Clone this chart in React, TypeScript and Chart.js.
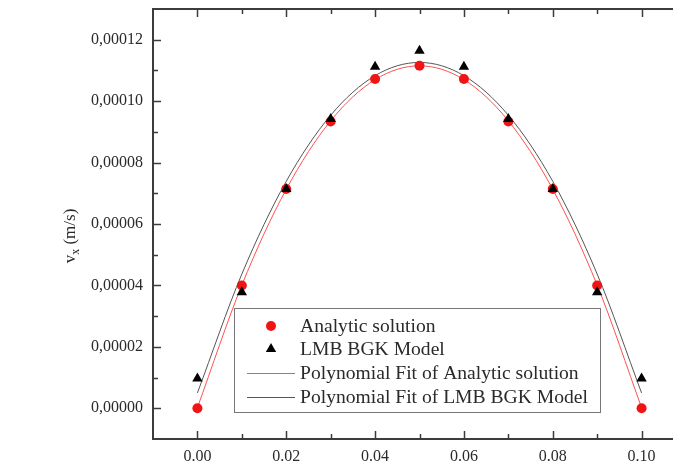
import React, { useEffect, useRef } from "react";
import { Chart, registerables } from "chart.js";

Chart.register(...registerables);

// ---- data ----
const xValues = [0, 0.01, 0.02, 0.03, 0.04, 0.05, 0.06, 0.07, 0.08, 0.09, 0.1];
const analyticSolution = [0, 4.0e-5, 7.14e-5, 9.34e-5, 1.072e-4, 1.115e-4, 1.072e-4, 9.34e-5, 7.14e-5, 4.0e-5, 0];
const lmbBgkModel = [9.7e-6, 3.78e-5, 7.14e-5, 9.42e-5, 1.112e-4, 1.164e-4, 1.112e-4, 9.42e-5, 7.14e-5, 3.78e-5, 9.7e-6];
const fitAnalytic = [0.2e-6, 4.01e-5, 7.13e-5, 9.36e-5, 1.07e-4, 1.115e-4, 1.07e-4, 9.36e-5, 7.13e-5, 4.01e-5, 0.2e-6];
const fitLmb = [5.0e-6, 4.37e-5, 7.39e-5, 9.54e-5, 1.083e-4, 1.126e-4, 1.083e-4, 9.54e-5, 7.39e-5, 4.37e-5, 5.0e-6];

const xMajorTicks = [0, 0.02, 0.04, 0.06, 0.08, 0.1];
const xMinorTicks = [0.01, 0.03, 0.05, 0.07, 0.09];
const yMajorTicks = [0, 2e-5, 4e-5, 6e-5, 8e-5, 1e-4, 1.2e-4];
const yMinorTicks = [1e-5, 3e-5, 5e-5, 7e-5, 9e-5, 1.1e-4];

const legendLabels = [
  "Analytic solution",
  "LMB BGK Model",
  "Polynomial Fit of Analytic solution",
  "Polynomial Fit of LMB BGK Model",
];

const SERIF = '"Liberation Serif", "Times New Roman", serif';
const RED = "#f01414";
const TEXT = "#2a2a2a";
const AXIS = "#3c3c3c";

const toPts = (ys: number[]) => xValues.map((x, i) => ({ x, y: ys[i] }));

const decorPlugin = {
  id: "decor",
  afterDatasetsDraw(chart: any) {
    const { ctx, chartArea, scales } = chart;
    const { left, top, right, bottom } = chartArea;
    const xs = scales.x;
    const ys = scales.y;
    ctx.save();

    // frame
    ctx.strokeStyle = AXIS;
    ctx.lineWidth = 2;
    ctx.strokeRect(left, top, right - left, bottom - top);

    // inward ticks on all sides
    ctx.lineWidth = 1.5;
    const major = 8;
    const minor = 5;
    const drawX = (v: number, len: number) => {
      const p = Math.round(xs.getPixelForValue(v)) + 0.5;
      ctx.beginPath();
      ctx.moveTo(p, bottom);
      ctx.lineTo(p, bottom - len);
      ctx.moveTo(p, top);
      ctx.lineTo(p, top + len);
      ctx.stroke();
    };
    const drawY = (v: number, len: number) => {
      const p = Math.round(ys.getPixelForValue(v)) + 0.5;
      ctx.beginPath();
      ctx.moveTo(left, p);
      ctx.lineTo(left + len, p);
      ctx.moveTo(right, p);
      ctx.lineTo(right - len, p);
      ctx.stroke();
    };
    xMajorTicks.forEach((v) => drawX(v, major));
    xMinorTicks.forEach((v) => drawX(v, minor));
    yMajorTicks.forEach((v) => drawY(v, major));
    yMinorTicks.forEach((v) => drawY(v, minor));

    // legend box
    const bx = 234.5, by = 308.5, bw = 366, bh = 104;
    ctx.fillStyle = "#ffffff";
    ctx.fillRect(bx, by, bw, bh);
    ctx.strokeStyle = "#777";
    ctx.lineWidth = 1;
    ctx.strokeRect(bx, by, bw, bh);
    const rows = [326, 349, 373, 397];
    const mx = 271;
    // circle
    ctx.fillStyle = RED;
    ctx.beginPath();
    ctx.arc(mx, rows[0], 5, 0, Math.PI * 2);
    ctx.fill();
    // triangle
    ctx.fillStyle = "#000";
    const r = 6;
    ctx.beginPath();
    ctx.moveTo(mx, rows[1] - r);
    ctx.lineTo(mx + r * 0.866, rows[1] + r * 0.5);
    ctx.lineTo(mx - r * 0.866, rows[1] + r * 0.5);
    ctx.closePath();
    ctx.fill();
    // lines
    ctx.lineWidth = 1;
    ctx.strokeStyle = "#ff5050";
    ctx.beginPath();
    ctx.moveTo(247, rows[2] + 0.5);
    ctx.lineTo(295, rows[2] + 0.5);
    ctx.stroke();
    ctx.strokeStyle = "#555";
    ctx.beginPath();
    ctx.moveTo(247, rows[3] + 0.5);
    ctx.lineTo(295, rows[3] + 0.5);
    ctx.stroke();
    ctx.fillStyle = TEXT;
    ctx.font = `19.6px ${SERIF}`;
    ctx.textBaseline = "middle";
    ctx.textAlign = "left";
    legendLabels.forEach((t, i) => ctx.fillText(t, 300, rows[i] + 1));

    // y axis title: v_x (m/s)
    ctx.translate(69, 236);
    ctx.rotate(-Math.PI / 2);
    const big = `17px ${SERIF}`;
    const small = `12px ${SERIF}`;
    ctx.font = big;
    const wv = ctx.measureText("v").width;
    const wr = ctx.measureText(" (m/s)").width;
    ctx.font = small;
    const wx = ctx.measureText("x").width;
    const total = wv + wx + wr;
    let cx = -total / 2;
    ctx.textBaseline = "alphabetic";
    ctx.fillStyle = TEXT;
    ctx.font = big;
    ctx.fillText("v", cx, 6);
    cx += wv;
    ctx.font = small;
    ctx.fillText("x", cx, 10);
    cx += wx;
    ctx.font = big;
    ctx.fillText(" (m/s)", cx, 6);

    ctx.restore();
  },
};

export default function App() {
  const ref = useRef<HTMLCanvasElement | null>(null);

  useEffect(() => {
    if (!ref.current) return;
    const chart = new Chart(ref.current, {
      type: "scatter",
      data: {
        datasets: [
          {
            label: legendLabels[1],
            data: toPts(lmbBgkModel),
            pointStyle: "triangle",
            pointRadius: 6,
            backgroundColor: "#000",
            borderColor: "#000",
            borderWidth: 0,
            order: 0,
          },
          {
            label: legendLabels[0],
            data: toPts(analyticSolution),
            pointStyle: "circle",
            pointRadius: 5,
            backgroundColor: RED,
            borderColor: RED,
            borderWidth: 0,
            order: 1,
          },
          {
            label: legendLabels[2],
            data: toPts(fitAnalytic),
            showLine: true,
            pointRadius: 0,
            borderColor: "#ff5050",
            borderWidth: 1,
            cubicInterpolationMode: "monotone",
            order: 2,
          },
          {
            label: legendLabels[3],
            data: toPts(fitLmb),
            showLine: true,
            pointRadius: 0,
            borderColor: "#555",
            borderWidth: 1,
            cubicInterpolationMode: "monotone",
            order: 3,
          },
        ],
      } as any,
      options: {
        responsive: false,
        animation: false,
        devicePixelRatio: 1,
        layout: { padding: { top: 9, right: 14, left: 0, bottom: 0 } },
        plugins: { legend: { display: false }, tooltip: { enabled: false } },
        scales: {
          x: {
            type: "linear",
            min: -0.01,
            max: 0.11,
            grid: { display: false, drawTicks: false },
            border: { display: false },
            afterBuildTicks: (s: any) => {
              s.ticks = xMajorTicks.map((v) => ({ value: v }));
            },
            afterFit: (s: any) => {
              s.height = 22;
              s.paddingLeft = 0;
              s.paddingRight = 0;
            },
            ticks: {
              padding: 8,
              maxRotation: 0,
              autoSkip: false,
              color: TEXT,
              font: { family: SERIF, size: 16 },
              callback: (v: any) => Number(v).toFixed(2),
            },
          },
          y: {
            type: "linear",
            min: -1e-5,
            max: 1.3e-4,
            grid: { display: false, drawTicks: false },
            border: { display: false },
            afterBuildTicks: (s: any) => {
              s.ticks = yMajorTicks.map((v) => ({ value: v }));
            },
            afterFit: (s: any) => {
              s.width = 153;
              s.paddingTop = 0;
              s.paddingBottom = 0;
            },
            ticks: {
              padding: 10,
              autoSkip: false,
              color: TEXT,
              font: { family: SERIF, size: 16 },
              callback: (v: any) => Number(v).toFixed(5).replace(".", ","),
            },
          },
        },
      } as any,
      plugins: [decorPlugin],
    });
    return () => chart.destroy();
  }, []);

  return (
    <div
      style={{
        position: "fixed",
        left: 0,
        top: 0,
        width: 673,
        height: 461,
        overflow: "hidden",
        background: "#fff",
      }}
    >
      <canvas ref={ref} width={700} height={461} style={{ width: 700, height: 461, display: "block" }} />
    </div>
  );
}
